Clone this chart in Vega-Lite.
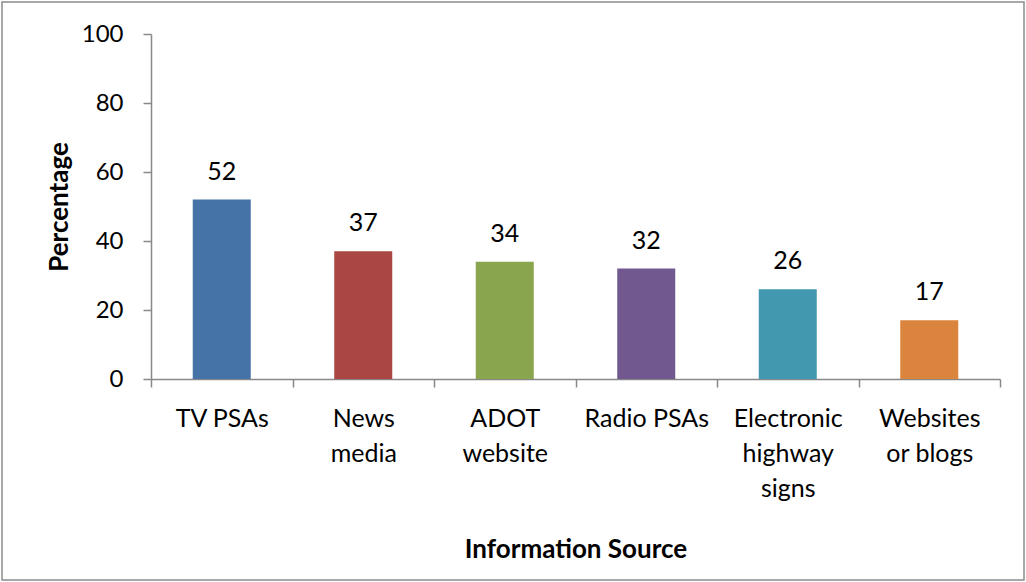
{
  "$schema": "https://vega.github.io/schema/vega-lite/v6.json",
  "autosize": "none",
  "width": 1022,
  "height": 578,
  "padding": {"left": 2, "top": 2, "right": 2, "bottom": 2},
  "background": "white",
  "config": {
    "font": "Lato",
    "view": {"stroke": "#8c8c8c", "strokeWidth": 1.5},
    "axis": {"grid": false}
  },
  "data": {
    "values": [
      {"source": "TV PSAs", "pct": 52},
      {"source": "News media", "pct": 37},
      {"source": "ADOT website", "pct": 34},
      {"source": "Radio PSAs", "pct": 32},
      {"source": "Electronic highway signs", "pct": 26},
      {"source": "Websites or blogs", "pct": 17}
    ]
  },
  "encoding": {
    "x": {
      "field": "source",
      "type": "nominal",
      "sort": null,
      "scale": {"range": [149, 998], "paddingInner": 0, "paddingOuter": 0},
      "axis": {
        "title": "Information Source",
        "titleFontSize": 26,
        "titleFontWeight": "bold",
        "titleColor": "black",
        "titleX": 573.5,
        "titleY": 178,
        "titleBaseline": "alphabetic",
        "titleAnchor": "middle",
        "titleAlign": "center",
        "offset": -201,
        "labelAngle": 0,
        "labelFontSize": 25,
        "labelColor": "black",
        "labelPadding": 19,
        "labelLineHeight": 35,
        "labelExpr": "!datum.value ? '' : datum.value == 'TV PSAs' || datum.value == 'Radio PSAs' ? datum.value : datum.value == 'Websites or blogs' ? ['Websites', 'or blogs'] : split(datum.value, ' ')",
        "tickBand": "extent",
        "tickSize": 8,
        "tickColor": "#888888",
        "tickWidth": 1.5,
        "domainColor": "#888888",
        "domainWidth": 1.5
      }
    },
    "y": {
      "field": "pct",
      "type": "quantitative",
      "scale": {"domain": [0, 100], "range": [377, 32], "nice": false},
      "axis": {
        "title": "Percentage",
        "titleFontSize": 26,
        "titleFontWeight": "bold",
        "titleColor": "black",
        "titleX": -92,
        "titleY": 204.5,
        "titleAngle": 270,
        "titleBaseline": "middle",
        "titleAlign": "center",
        "offset": -149,
        "values": [0, 20, 40, 60, 80, 100],
        "labelFontSize": 24,
        "labelColor": "black",
        "labelPadding": 20,
        "tickSize": 8,
        "tickColor": "#888888",
        "tickWidth": 1.5,
        "domainColor": "#888888",
        "domainWidth": 1.5
      }
    }
  },
  "layer": [
    {
      "mark": {"type": "bar", "width": {"band": 0.41}},
      "encoding": {
        "color": {
          "field": "source",
          "type": "nominal",
          "sort": null,
          "scale": {"range": ["#4572A7", "#AA4643", "#89A54E", "#71588F", "#4198AF", "#DB843D"]},
          "legend": null
        }
      }
    },
    {
      "mark": {"type": "text", "fontSize": 25, "baseline": "alphabetic", "dy": -20, "color": "black"},
      "encoding": {"text": {"field": "pct", "type": "quantitative"}}
    }
  ]
}
